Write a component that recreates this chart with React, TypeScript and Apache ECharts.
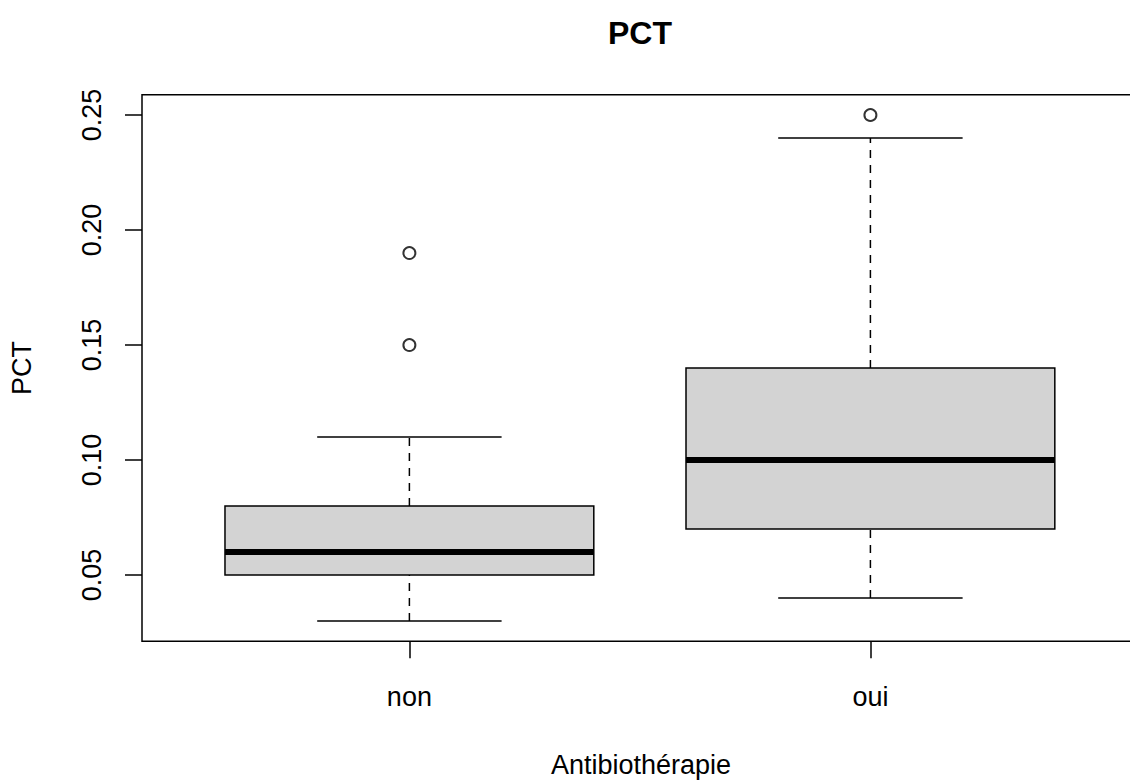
import React, { useEffect, useRef } from "react";
import * as echarts from "echarts";

// Groups on the x axis
const categories: string[] = ["non", "oui"];
// Five-number summaries per group: [lower whisker, Q1, median, Q3, upper whisker]
const boxStats: number[][] = [
  [0.03, 0.05, 0.06, 0.08, 0.11],
  [0.04, 0.07, 0.1, 0.14, 0.24],
];
// Outlying points: [group position, value]
const outliers: number[][] = [
  [1, 0.15],
  [1, 0.19],
  [2, 0.25],
];
// Tick positions on the value axis
const yTicks: number[] = [0.05, 0.1, 0.15, 0.2, 0.25];

const FONT = "'Liberation Sans', Arial, Helvetica, sans-serif";
const BOX_HALF = 0.4;
const CAP_HALF = 0.2;

export default function App() {
  const ref = useRef<HTMLDivElement | null>(null);

  useEffect(() => {
    if (!ref.current) return;
    const chart = echarts.init(ref.current, undefined, { renderer: "svg" });

    const boxData = boxStats.map((s, i) => [i + 1, ...s]);

    const renderBox = (params: any, api: any) => {
      const x = api.value(0);
      const lo = api.value(1);
      const q1 = api.value(2);
      const med = api.value(3);
      const q3 = api.value(4);
      const hi = api.value(5);
      const p = (xx: number, yy: number) => api.coord([xx, yy]);
      const black = "#000";
      const dashed = { stroke: black, lineWidth: 1.5, lineDash: [8, 7] };
      const solid = { stroke: black, lineWidth: 1.5 };
      const seg = (x1: number, y1: number, x2: number, y2: number, style: any) => {
        const a = p(x1, y1);
        const b = p(x2, y2);
        return { type: "line", shape: { x1: a[0], y1: a[1], x2: b[0], y2: b[1] }, style };
      };
      const bl = p(x - BOX_HALF, q1);
      const tr = p(x + BOX_HALF, q3);
      return {
        type: "group",
        children: [
          seg(x, q3, x, hi, dashed),
          seg(x, lo, x, q1, dashed),
          seg(x - CAP_HALF, hi, x + CAP_HALF, hi, solid),
          seg(x - CAP_HALF, lo, x + CAP_HALF, lo, solid),
          {
            type: "rect",
            shape: { x: bl[0], y: tr[1], width: tr[0] - bl[0], height: bl[1] - tr[1] },
            style: { fill: "#D3D3D3", stroke: black, lineWidth: 1.5 },
          },
          seg(x - BOX_HALF, med, x + BOX_HALF, med, { stroke: black, lineWidth: 6 }),
        ],
      };
    };

    chart.setOption({
      animation: false,
      backgroundColor: "#fff",
      grid: {
        left: 142,
        top: 94.8,
        width: 995.8,
        height: 546.5,
        containLabel: false,
        outerBoundsMode: "none",
        show: true,
        borderColor: "#000",
        borderWidth: 1.5,
        backgroundColor: "transparent",
      },
      xAxis: {
        type: "value",
        min: 0.42,
        max: 2.58,
        axisLine: { show: false },
        splitLine: { show: false },
        axisTick: {
          show: true,
          length: 17,
          customValues: [1, 2],
          lineStyle: { color: "#000", width: 1.5 },
        },
        axisLabel: {
          customValues: [1, 2],
          formatter: (v: number) => categories[Math.round(v) - 1] ?? "",
          color: "#000",
          fontFamily: FONT,
          fontSize: 27,
          margin: 42,
        },
      },
      yAxis: {
        type: "value",
        min: 0.0212,
        max: 0.2588,
        axisLine: { show: false },
        splitLine: { show: false },
        axisTick: {
          show: true,
          length: 17,
          customValues: yTicks,
          lineStyle: { color: "#000", width: 1.5 },
        },
        axisLabel: {
          customValues: yTicks,
          formatter: (v: number) => v.toFixed(2),
          rotate: 90,
          color: "#000",
          fontFamily: FONT,
          fontSize: 27,
          margin: 37,
        },
      },
      graphic: [
        {
          type: "text",
          x: 640,
          y: 33,
          style: {
            text: "PCT",
            fontFamily: FONT,
            fontSize: 32,
            fontWeight: "bold",
            fill: "#000",
            align: "center",
            verticalAlign: "middle",
          },
        },
        {
          type: "text",
          x: 641,
          y: 765,
          style: {
            text: "Antibiothérapie",
            fontFamily: FONT,
            fontSize: 27,
            fill: "#000",
            align: "center",
            verticalAlign: "middle",
          },
        },
        {
          type: "text",
          x: 22,
          y: 368,
          rotation: Math.PI / 2,
          style: {
            text: "PCT",
            fontFamily: FONT,
            fontSize: 27,
            fill: "#000",
            align: "center",
            verticalAlign: "middle",
          },
        },
      ],
      series: [
        {
          type: "custom",
          renderItem: renderBox,
          data: boxData,
          encode: { x: 0, y: [1, 2, 3, 4, 5] },
          z: 2,
        },
        {
          type: "scatter",
          data: outliers,
          symbol: "circle",
          symbolSize: 12,
          itemStyle: { color: "#fff", borderColor: "#000", borderWidth: 2 },
          z: 3,
        },
      ],
    });

    return () => chart.dispose();
  }, []);

  return (
    <div
      style={{
        position: "absolute",
        left: 0,
        top: 0,
        width: 1130,
        height: 780,
        overflow: "hidden",
      }}
    >
      <div ref={ref} style={{ width: 1150, height: 780 }} />
    </div>
  );
}
